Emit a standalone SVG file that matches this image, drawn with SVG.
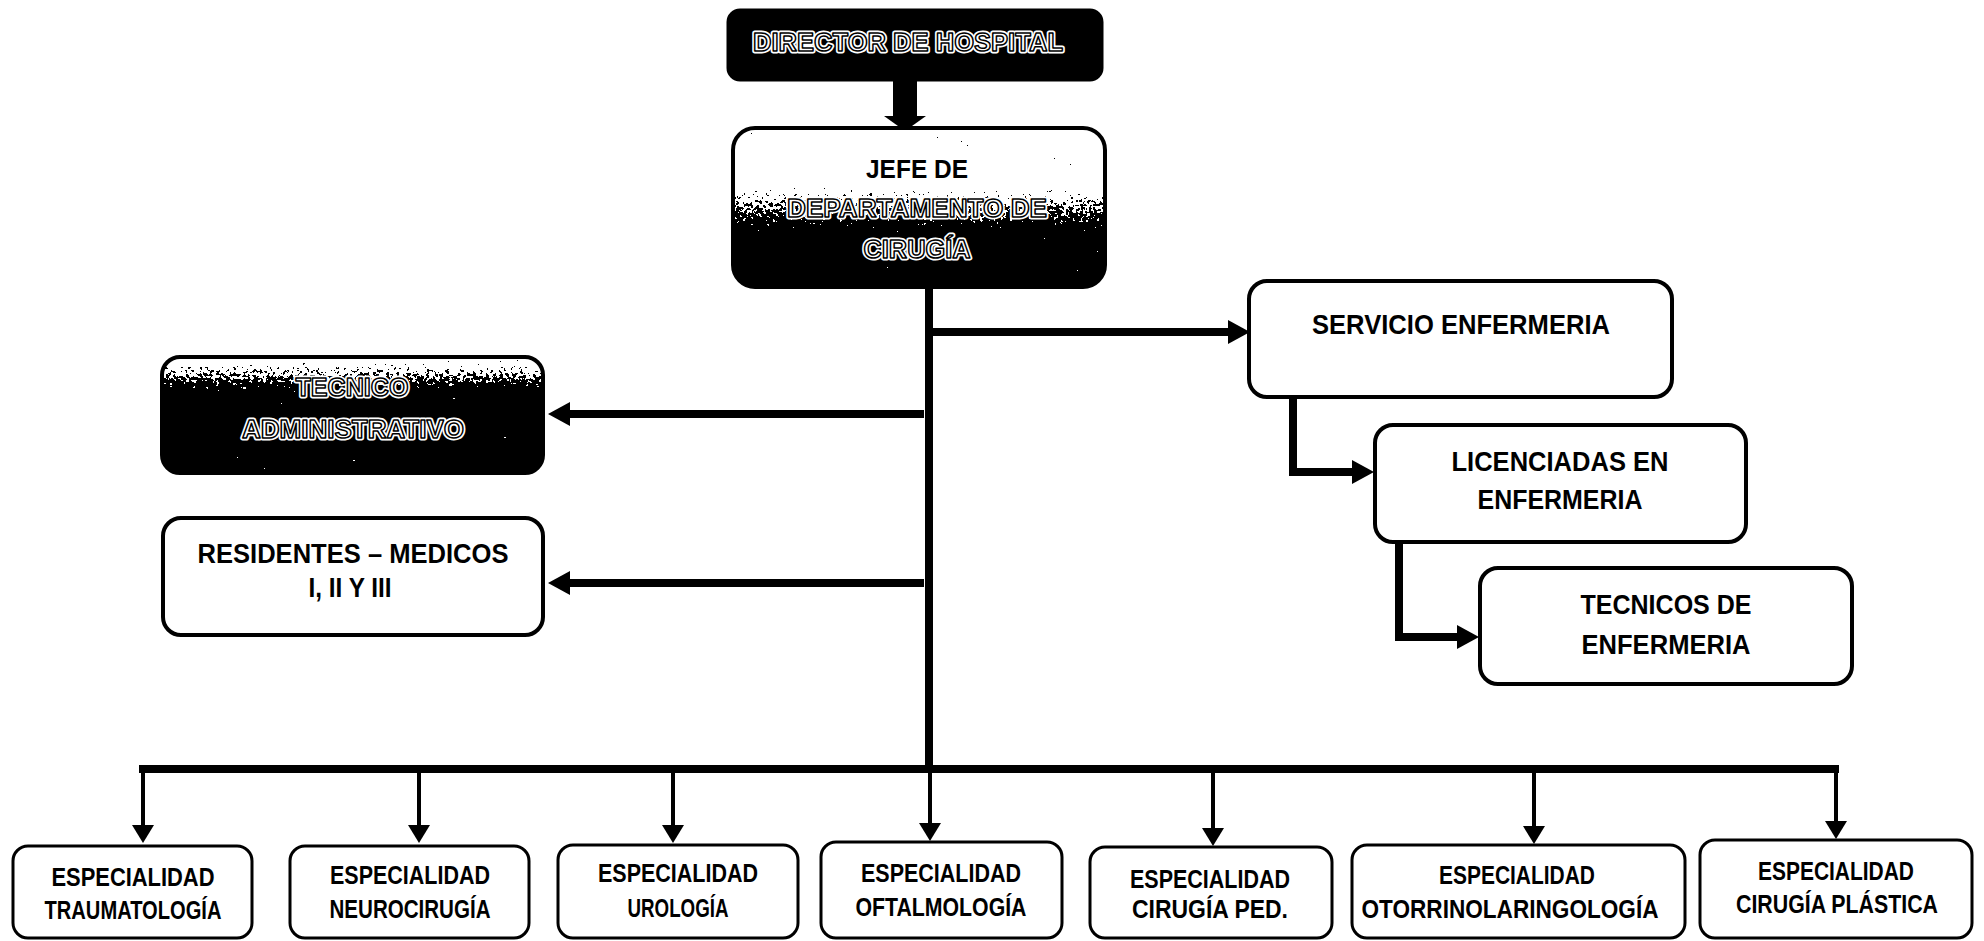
<svg xmlns="http://www.w3.org/2000/svg" width="1984" height="941" viewBox="0 0 1984 941">
<style>
.bg{fill:#fff}
.box{fill:#fff;stroke:#000;stroke-width:4}
.sbox{fill:#fff;stroke:#000;stroke-width:3}
.edge{fill:none;stroke:#000;stroke-width:4}
.t{font-family:"Liberation Sans Narrow","Liberation Sans",Arial,sans-serif;font-weight:bold;text-anchor:middle;fill:#000}
.halo{stroke:#fff;stroke-width:5;stroke-linejoin:round}
.o{fill:#fff;stroke:#000;stroke-width:1.5;stroke-linejoin:round}
.thick{fill:none;stroke:#000;stroke-width:8}
.thin{fill:none;stroke:#000;stroke-width:4}
</style>
<defs>
<marker id="ah" markerUnits="userSpaceOnUse" markerWidth="22" markerHeight="24" refX="0" refY="12" orient="auto"><path d="M0,0 L22,12 L0,24 Z" fill="#000"/></marker>
<marker id="as" markerUnits="userSpaceOnUse" markerWidth="18" markerHeight="22" refX="0" refY="11" orient="auto"><path d="M0,0 L18,11 L0,22 Z" fill="#000"/></marker>
<linearGradient id="gJefe" x1="0" y1="0" x2="0" y2="1"><stop offset="0.35" stop-color="#fff"/><stop offset="0.66" stop-color="#000"/></linearGradient>
<linearGradient id="gTec" x1="0" y1="0" x2="0" y2="1"><stop offset="0.02" stop-color="#fff"/><stop offset="0.32" stop-color="#000"/></linearGradient>
<filter id="dither" x="0" y="0" width="1" height="1" color-interpolation-filters="sRGB">
<feTurbulence type="fractalNoise" baseFrequency="0.3" numOctaves="2" seed="7" result="n"/>
<feColorMatrix in="n" type="matrix" values="1 0 0 0 0 1 0 0 0 0 1 0 0 0 0 0 0 0 0 1" result="nr"/>
<feComposite in="SourceGraphic" in2="nr" operator="arithmetic" k1="0" k2="1" k3="1.4" k4="-0.7" result="sum"/>
<feComponentTransfer in="sum" result="thr"><feFuncR type="discrete" tableValues="0 1"/><feFuncG type="discrete" tableValues="0 1"/><feFuncB type="discrete" tableValues="0 1"/></feComponentTransfer>
<feComposite in="thr" in2="SourceAlpha" operator="in"/>
</filter>
</defs>
<rect class="bg" x="0" y="0" width="1984" height="941"/>

<g id="connectors">
<path d="M905,80 V116" stroke="#000" stroke-width="24" fill="none"/>
<polygon points="884,116 926,116 905,131" fill="#000"/>
<path class="thick" d="M929,286 V773" stroke-width="10"/>
<path class="thick" d="M933,332 H1228" marker-end="url(#ah)"/>
<path class="thick" d="M924,414 H570" marker-end="url(#ah)"/>
<path class="thick" d="M924,583 H570" marker-end="url(#ah)"/>
<path class="thick" d="M1293,398 V472 H1352" marker-end="url(#ah)"/>
<path class="thick" d="M1399,542 V637 H1457" marker-end="url(#ah)"/>
<path class="thick" d="M139,769 H1839"/>
<path class="thin" d="M143,769 V825" marker-end="url(#as)"/>
<path class="thin" d="M419,769 V825" marker-end="url(#as)"/>
<path class="thin" d="M673,769 V825" marker-end="url(#as)"/>
<path class="thin" d="M930,769 V823" marker-end="url(#as)"/>
<path class="thin" d="M1213,769 V828" marker-end="url(#as)"/>
<path class="thin" d="M1534,769 V826" marker-end="url(#as)"/>
<path class="thin" d="M1836,769 V821" marker-end="url(#as)"/>
</g>

<g id="director">
<rect x="728" y="10" width="374" height="70" rx="12" fill="#000" stroke="#000" stroke-width="3"/>
<text class="t halo" x="908" y="51" font-size="26" textLength="310" lengthAdjust="spacingAndGlyphs">DIRECTOR DE HOSPITAL</text>
<text class="t o" x="908" y="51" font-size="26" textLength="310" lengthAdjust="spacingAndGlyphs">DIRECTOR DE HOSPITAL</text>
</g>

<g id="jefe">
<rect x="733" y="128" width="372" height="159" rx="22" fill="url(#gJefe)" filter="url(#dither)"/>
<rect x="733" y="128" width="372" height="159" rx="22" class="edge" stroke-width="5"/>
<text class="t" x="917" y="178" font-size="26" textLength="102" lengthAdjust="spacingAndGlyphs">JEFE DE</text>
<text class="t halo" x="917" y="217" font-size="26" textLength="260" lengthAdjust="spacingAndGlyphs">DEPARTAMENTO DE</text>
<text class="t o" x="917" y="217" font-size="26" textLength="260" lengthAdjust="spacingAndGlyphs">DEPARTAMENTO DE</text>
<text class="t halo" x="917" y="258" font-size="26" textLength="107" lengthAdjust="spacingAndGlyphs">CIRUGÍA</text>
<text class="t o" x="917" y="258" font-size="26" textLength="107" lengthAdjust="spacingAndGlyphs">CIRUGÍA</text>
</g>

<g id="tecnico-administrativo">
<rect x="162" y="357" width="381" height="116" rx="18" fill="url(#gTec)" filter="url(#dither)"/>
<rect x="162" y="357" width="381" height="116" rx="18" class="edge" stroke-width="4"/>
<text class="t halo" x="352" y="396" font-size="26" textLength="113" lengthAdjust="spacingAndGlyphs">TECNICO</text>
<text class="t o" x="352" y="396" font-size="26" textLength="113" lengthAdjust="spacingAndGlyphs">TECNICO</text>
<text class="t halo" x="353" y="438" font-size="26" textLength="222" lengthAdjust="spacingAndGlyphs">ADMINISTRATIVO</text>
<text class="t o" x="353" y="438" font-size="26" textLength="222" lengthAdjust="spacingAndGlyphs">ADMINISTRATIVO</text>
</g>

<g id="residentes">
<rect class="box" x="163" y="518" width="380" height="117" rx="18"/>
<text class="t" x="353" y="563" font-size="27" textLength="311" lengthAdjust="spacingAndGlyphs">RESIDENTES – MEDICOS</text>
<text class="t" x="350" y="597" font-size="27" textLength="83" lengthAdjust="spacingAndGlyphs">I, II Y III</text>
</g>

<g id="servicio-enfermeria">
<rect class="box" x="1249" y="281" width="423" height="116" rx="18"/>
<text class="t" x="1461" y="334" font-size="28" textLength="298" lengthAdjust="spacingAndGlyphs">SERVICIO ENFERMERIA</text>
</g>

<g id="licenciadas">
<rect class="box" x="1375" y="425" width="371" height="117" rx="18"/>
<text class="t" x="1560" y="471" font-size="27" textLength="217" lengthAdjust="spacingAndGlyphs">LICENCIADAS EN</text>
<text class="t" x="1560" y="509" font-size="27" textLength="165" lengthAdjust="spacingAndGlyphs">ENFERMERIA</text>
</g>

<g id="tecnicos-enfermeria">
<rect class="box" x="1480" y="568" width="372" height="116" rx="18"/>
<text class="t" x="1666" y="614" font-size="27" textLength="171" lengthAdjust="spacingAndGlyphs">TECNICOS DE</text>
<text class="t" x="1666" y="654" font-size="27" textLength="169" lengthAdjust="spacingAndGlyphs">ENFERMERIA</text>
</g>

<g id="esp-traumatologia">
<rect class="sbox" x="13" y="846" width="239" height="92" rx="15"/>
<text class="t" x="133" y="886" font-size="25" textLength="163" lengthAdjust="spacingAndGlyphs">ESPECIALIDAD</text>
<text class="t" x="133" y="919" font-size="25" textLength="177" lengthAdjust="spacingAndGlyphs">TRAUMATOLOGÍA</text>
</g>
<g id="esp-neurocirugia">
<rect class="sbox" x="290" y="846" width="239" height="92" rx="15"/>
<text class="t" x="410" y="884" font-size="25" textLength="160" lengthAdjust="spacingAndGlyphs">ESPECIALIDAD</text>
<text class="t" x="410" y="918" font-size="25" textLength="161" lengthAdjust="spacingAndGlyphs">NEUROCIRUGÍA</text>
</g>
<g id="esp-urologia">
<rect class="sbox" x="558" y="845" width="240" height="93" rx="15"/>
<text class="t" x="678" y="882" font-size="25" textLength="160" lengthAdjust="spacingAndGlyphs">ESPECIALIDAD</text>
<text class="t" x="678" y="917" font-size="25" textLength="101" lengthAdjust="spacingAndGlyphs">UROLOGÍA</text>
</g>
<g id="esp-oftalmologia">
<rect class="sbox" x="821" y="842" width="241" height="96" rx="15"/>
<text class="t" x="941" y="882" font-size="25" textLength="160" lengthAdjust="spacingAndGlyphs">ESPECIALIDAD</text>
<text class="t" x="941" y="916" font-size="25" textLength="171" lengthAdjust="spacingAndGlyphs">OFTALMOLOGÍA</text>
</g>
<g id="esp-cirugia-ped">
<rect class="sbox" x="1090" y="847" width="242" height="91" rx="15"/>
<text class="t" x="1210" y="888" font-size="25" textLength="160" lengthAdjust="spacingAndGlyphs">ESPECIALIDAD</text>
<text class="t" x="1210" y="918" font-size="25" textLength="156" lengthAdjust="spacingAndGlyphs">CIRUGÍA PED.</text>
</g>
<g id="esp-otorrinolaringologia">
<rect class="sbox" x="1352" y="845" width="333" height="93" rx="15"/>
<text class="t" x="1517" y="884" font-size="25" textLength="156" lengthAdjust="spacingAndGlyphs">ESPECIALIDAD</text>
<text class="t" x="1510" y="918" font-size="25" textLength="297" lengthAdjust="spacingAndGlyphs">OTORRINOLARINGOLOGÍA</text>
</g>
<g id="esp-cirugia-plastica">
<rect class="sbox" x="1700" y="840" width="272" height="98" rx="15"/>
<text class="t" x="1836" y="880" font-size="25" textLength="156" lengthAdjust="spacingAndGlyphs">ESPECIALIDAD</text>
<text class="t" x="1837" y="913" font-size="25" textLength="202" lengthAdjust="spacingAndGlyphs">CIRUGÍA PLÁSTICA</text>
</g>
</svg>
